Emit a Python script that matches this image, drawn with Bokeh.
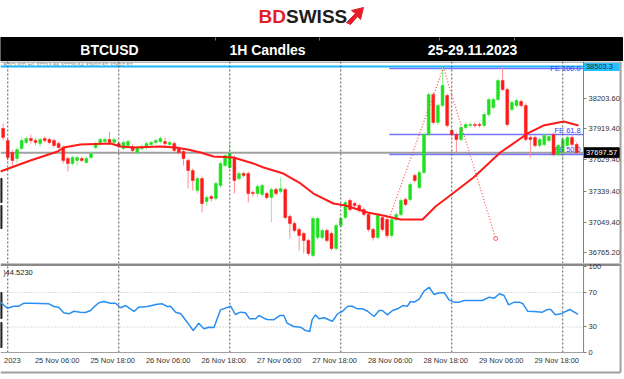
from bokeh.plotting import figure
from bokeh.models import Range1d, FixedTicker, Span, NumeralTickFormatter
from bokeh.layouts import column
from bokeh.embed import file_html
from bokeh.resources import INLINE
from bokeh.core.properties import value

# ---------------- data ----------------
# hourly candles, hour index counted from 25 Nov 2023 00:00
hours = list(range(-1, 124))
open_ = [37923, 37811, 37699, 37643, 37737, 37793, 37830, 37811, 37783, 37830,
         37821, 37811, 37783, 37746, 37643, 37597, 37625, 37643, 37606, 37653,
         37746, 37783, 37802, 37821, 37793, 37783, 37737, 37765, 37755, 37699,
         37737, 37746, 37774, 37793, 37802, 37802, 37774, 37783, 37737, 37709,
         37625, 37531, 37344, 37456, 37242, 37288, 37270, 37391, 37578, 37559,
         37653, 37456, 37503, 37503, 37326, 37316, 37307, 37316, 37279, 37354,
         37335, 37354, 37102, 37036, 36980, 36943, 36877, 36737, 36905, 36905,
         36971, 36943, 36803, 37018, 37092, 37251, 37223, 37204, 37167, 37120,
         36980, 36905, 37092, 37074, 36924, 37074, 37120, 37260, 37260, 37485,
         37372, 37513, 37867, 38241, 37980, 38138, 38232, 37905, 37867, 37821,
         37933, 37952, 37961, 37961, 37952, 38054, 38120, 38194, 38372, 38288,
         38101, 38138, 38176, 38138, 37839, 37839, 37765, 37774, 37811, 37867,
         37681, 37699, 37765, 37839, 37774]
close = [37839, 37653, 37625, 37727, 37811, 37830, 37811, 37793, 37821, 37811,
         37793, 37765, 37746, 37625, 37597, 37653, 37653, 37625, 37643, 37690,
         37783, 37821, 37821, 37793, 37821, 37755, 37793, 37802, 37718, 37746,
         37755, 37783, 37793, 37811, 37830, 37783, 37793, 37718, 37699, 37643,
         37531, 37438, 37456, 37223, 37279, 37270, 37410, 37597, 37671, 37690,
         37438, 37503, 37485, 37316, 37316, 37382, 37391, 37279, 37354, 37316,
         37363, 37092, 37036, 36971, 36924, 36877, 36756, 37083, 37083, 36971,
         36877, 36803, 37018, 37083, 37232, 37167, 37204, 37158, 37120, 36980,
         36905, 37111, 36980, 36924, 37074, 37120, 37251, 37214, 37400, 37438,
         37513, 37867, 38241, 37980, 38138, 38325, 37952, 37867, 37821, 37933,
         37961, 37961, 37952, 37952, 38054, 38194, 38194, 38372, 38288, 37961,
         38166, 38185, 38138, 37821, 37821, 37765, 37821, 37858, 37849, 37681,
         37765, 37821, 37839, 37774, 37698]
high = [37970, 37830, 37727, 37755, 37839, 37849, 37867, 37830, 37839, 37849,
        37839, 37830, 37802, 37765, 37662, 37671, 37671, 37662, 37662, 37709,
        37802, 37839, 37839, 37895, 37839, 37802, 37811, 37821, 37774, 37765,
        37774, 37802, 37811, 37830, 37849, 37839, 37811, 37802, 37755, 37727,
        37643, 37550, 37475, 37475, 37298, 37307, 37428, 37615, 37690, 37783,
        37671, 37522, 37522, 37522, 37344, 37400, 37410, 37335, 37372, 37372,
        37466, 37372, 37120, 37055, 36999, 36961, 36896, 37102, 37102, 36989,
        36989, 36961, 37036, 37102, 37251, 37270, 37242, 37223, 37186, 37139,
        36999, 37130, 37111, 37092, 37092, 37139, 37270, 37279, 37419, 37503,
        37531, 37886, 38260, 38260, 38157, 38493, 38250, 37923, 37886, 37952,
        37980, 37980, 37980, 37980, 38073, 38213, 38213, 38390, 38493, 38306,
        38185, 38204, 38194, 38157, 37858, 37858, 37839, 37877, 37867, 37886,
        37783, 37839, 37858, 37858, 37793]
low = [37811, 37625, 37578, 37597, 37718, 37774, 37783, 37765, 37755, 37793,
       37774, 37746, 37727, 37597, 37522, 37578, 37578, 37606, 37597, 37634,
       37727, 37765, 37783, 37774, 37774, 37737, 37718, 37746, 37699, 37681,
       37718, 37727, 37755, 37774, 37783, 37737, 37755, 37699, 37681, 37578,
       37363, 37344, 37316, 37139, 37204, 37242, 37251, 37372, 37559, 37541,
       37316, 37438, 37466, 37232, 37288, 37288, 37288, 37260, 37046, 37298,
       37316, 37074, 36896, 36952, 36784, 36756, 36737, 36719, 36887, 36887,
       36859, 36784, 36784, 36999, 37074, 37148, 37186, 37139, 37102, 36961,
       36877, 36887, 36961, 36896, 36905, 37055, 37102, 37195, 37242, 37419,
       37354, 37494, 37849, 37961, 37961, 38120, 37933, 37849, 37699, 37802,
       37914, 37933, 37933, 37933, 37933, 38036, 38101, 38176, 38269, 37942,
       38082, 38120, 38120, 37802, 37653, 37746, 37746, 37755, 37793, 37662,
       37662, 37643, 37746, 37755, 37690]

# moving average read at sample points
ma_hours = [-1.6, 4.9, 10.8, 12.1, 15.7, 22.2, 24.4, 27.2, 33.0, 36.3, 38.9,
            41.7, 44.5, 48.8, 53.1, 55.3, 59.6, 63.3, 66.1, 70.4, 73.0, 77.8,
            81.2, 84.9, 89.7, 92.5, 96.2, 100.7, 106.5, 112.4, 115.8, 120.2, 123.4]
ma_values = [37522, 37625, 37709, 37746, 37774, 37783, 37755, 37746, 37755, 37746,
             37727, 37699, 37662, 37653, 37597, 37559, 37503, 37410, 37316, 37223,
             37204, 37139, 37111, 37073, 37073, 37195, 37316, 37466, 37699, 37877,
             37951, 37989, 37951]

# RSI read at sample points
rsi_hours = [-1.6, -0.1, 1.3, 2.4, 3.5, 4.9, 8.9, 10.0, 11.0, 12.1, 13.2, 14.3,
             15.7, 16.8, 17.9, 18.6, 19.7, 20.8, 22.2, 23.3, 24.4, 25.5, 27.3,
             28.3, 30.2, 32.3, 33.4, 34.5, 35.2, 36.3, 37.4, 38.8, 40.1, 41.3,
             42.4, 43.5, 44.6, 46.0, 48.2, 49.2, 50.3, 51.4, 52.3, 53.6, 54.3,
             55.4, 56.1, 57.5, 58.8, 59.7, 60.4, 61.8, 63.3, 64.4, 65.3, 65.8,
             66.5, 67.3, 68.4, 70.2, 71.3, 72.4, 73.5, 74.5, 75.6, 76.7, 77.8,
             79.2, 80.3, 81.0, 82.1, 83.2, 84.3, 85.4, 86.4, 87.1, 87.9, 89.0,
             90.0, 91.1, 92.2, 93.3, 94.4, 95.4, 96.5, 97.6, 98.7, 100.5, 102.6,
             104.1, 105.2, 106.3, 107.3, 108.3, 109.5, 110.6, 111.4, 112.4, 113.8,
             115.6, 116.7, 117.4, 118.4, 119.6, 121.5, 122.9, 123.3]
rsi_values = [58.8, 51.8, 54.1, 54.1, 57.6, 57.6, 56.9, 53.8, 53.0, 46.5, 45.3, 48.3,
              47.2, 46.8, 49.1, 53.0, 58.1, 59.6, 57.6, 57.6, 52.3, 54.9, 48.0,
              53.0, 53.8, 56.4, 56.9, 53.8, 54.1, 47.2, 45.3, 35.6, 25.9, 34.4,
              27.9, 29.8, 29.4, 49.9, 54.1, 44.5, 47.2, 46.5, 39.5, 39.5, 43.3,
              40.2, 38.7, 38.3, 43.3, 43.3, 34.4, 30.6, 29.8, 25.9, 24.8, 38.3,
              44.1, 39.5, 40.7, 36.7, 45.3, 48.3, 54.1, 54.1, 51.1, 51.1, 48.3,
              42.2, 49.1, 49.1, 44.1, 49.1, 51.1, 54.9, 54.1, 59.6, 58.8, 62.7,
              71.5, 76.1, 67.7, 69.7, 69.7, 61.5, 58.8, 58.8, 60.7, 60.7, 60.7,
              64.6, 63.4, 68.5, 66.5, 55.7, 58.8, 58.8, 56.9, 48.3, 48.0, 47.2,
              50.3, 50.3, 44.1, 45.3, 50.3, 46.0, 44.5]
rsi_last = "44.5230"
rsi_levels = [30, 70]
rsi_ticks = [0, 30, 70, 100]

# price levels / annotations
price_ticks = [36765.2, 37049.4, 37339.4, 37629.4, 37919.4, 38203.6]
high_line = 38503.3
last_price = 37697.57
fe_levels = [38484, 37867, 37681]
fe_names = ["FE 100.0", "FE 61.8", "FE 50.0"]
fe_start = 82.5
fib_hours = [82.5, 94.2, 105.5]
fib_prices = [37090, 38493, 36896]

day_starts = [0, 24, 48, 72, 96, 120]
time_label_hours = [6, 18, 30, 42, 54, 66, 78, 90, 102, 114]
time_labels = ["25 Nov 06:00", "25 Nov 18:00", "26 Nov 06:00", "26 Nov 18:00",
               "27 Nov 06:00", "27 Nov 18:00", "28 Nov 06:00", "28 Nov 18:00",
               "29 Nov 06:00", "29 Nov 18:00"]

header_cells = ["BTCUSD", "1H Candles", "25-29.11.2023"]

# ---------------- styling / geometry ----------------
W = 624
X0, X1 = -1.568, 133.35      # visible hour span (full window width)
AX = 124.5                    # hour where the price / RSI scale sits
RB = 132.5                    # right border of the chart window
FONT = "Liberation Sans"
GREEN, RED = "#1fe01f", "#ff1a1a"
GREEN_W, RED_W = "#8ff08f", "#ff8c8c"
GRID = "#555555"
FRAME = "#a0a0a0"
FE_BASELINES = ["middle", "bottom", "bottom"]


def style_axis(ax):
    ax.major_label_text_font = FONT
    ax.major_label_text_font_size = "7.5px"
    ax.major_label_text_color = "#333333"
    ax.minor_tick_line_color = None


# ---------------- header ----------------
hdr = figure(width=W, height=61, x_range=Range1d(0, 624), y_range=Range1d(61, 0),
             output_backend="svg", toolbar_location=None, x_axis_location=None,
             y_axis_location=None, min_border=0, outline_line_color=None)
hdr.grid.visible = False
hdr.text(x=[258], y=[16], text=["BD"], text_font=value(FONT), text_font_style="bold",
         text_font_size="19px", text_color="#e3202a", text_baseline="middle", text_align="left")
hdr.text(x=[285.5], y=[16], text=["SWISS"], text_font=value(FONT), text_font_style="bold",
         text_font_size="19px", text_color="#1d1d1b", text_baseline="middle", text_align="left")
hdr.patch(x=[346, 355, 351, 363, 360, 357, 350], y=[22, 13, 10, 7, 19, 16, 24], color="#e3202a")
hdr.quad(left=[0], right=[622], top=[37], bottom=[61], color="#000000")
hdr.segment(x0=[215, 319, 439, 514], y0=[37] * 4, x1=[215, 319, 439, 514], y1=[40] * 4,
            line_color="#777777", line_width=1)
hdr.text(x=[109, 267, 472], y=[49, 49, 49], text=header_cells, text_font=value(FONT),
         text_font_style="bold", text_font_size="14px", text_color="white",
         text_baseline="middle", text_align="center")

# ---------------- main price chart ----------------
p = figure(width=W, height=202, x_range=Range1d(X0, X1), y_range=Range1d(36662.6, 38549.3),
           output_backend="svg", toolbar_location=None, x_axis_location=None,
           y_axis_location="right", min_border=0, outline_line_color=None)
p.grid.visible = False
for d in day_starts:
    p.add_layout(Span(location=d, dimension="height", line_color=GRID,
                      line_dash="2 2", line_width=1))

p.line(x=[X0, RB], y=[38545, 38545], line_color=FRAME, line_width=1.5)
p.line(x=[RB, RB], y=[36662.6, 38549.3], line_color=FRAME, line_width=2)
p.quad(left=[X0] * 2, right=[-1.25] * 2, bottom=[37232, 36989], top=[37457, 37204],
       color="#222222")

p.text(x=[-0.9], y=[38515], text=["BTCUSD,H1 37713.86 37729.54 37697.57 37697.57"],
       text_font=value(FONT), text_font_size="5.5px", text_color="#8a8a8a",
       text_baseline="middle", text_align="left")

p.line(x=[X0, AX], y=[high_line, high_line], line_color="#1ab8f5", line_width=2)
p.line(x=[X0, AX], y=[last_price, last_price], line_color="#a0a0a0", line_width=2)
for lvl, name, bl in zip(fe_levels, fe_names, FE_BASELINES):
    p.line(x=[fe_start, AX], y=[lvl, lvl], line_color="#7676ff", line_width=1.5)
    p.text(x=[123.9], y=[lvl], text=[name], text_font=value(FONT), text_font_size="7.5px",
           text_color="#3a3aff", text_baseline=bl, text_align="right")

up = [c >= o for o, c in zip(open_, close)]
body_col = [GREEN if u else RED for u in up]
wick_col = [GREEN_W if u else RED_W for u in up]
p.segment(x0=hours, y0=low, x1=hours, y1=high, line_color=wick_col, line_width=1)
p.vbar(x=hours, width=0.62, top=[max(o, c) for o, c in zip(open_, close)],
       bottom=[min(o, c) for o, c in zip(open_, close)],
       fill_color=body_col, line_color=body_col, line_width=0.5)

p.line(x=fib_hours, y=fib_prices, line_color="#ff5a5a", line_dash="1 2", line_width=1.3)
p.scatter(x=[fib_hours[-1]], y=[fib_prices[-1]], size=4, fill_color=None,
          line_color="#ff5a5a", line_width=1)
p.line(x=ma_hours, y=ma_values, line_color="#ff1a1a", line_width=2)

ya = p.yaxis[0]
ya.fixed_location = AX
ya.ticker = FixedTicker(ticks=price_ticks)
ya.formatter = NumeralTickFormatter(format="0.00")
style_axis(ya)
ya.axis_line_color = "#808080"
ya.major_tick_line_color = "#808080"
ya.major_tick_out = 3
ya.major_tick_in = 0
ya.major_label_standoff = 2

# value boxes on the price scale
p.quad(left=[AX], right=[RB - 0.3], bottom=[high_line - 38], top=[high_line + 28],
       color="#22c0ff")
p.text(x=[AX + 0.5], y=[high_line], text=["38503.3"], text_font=value(FONT),
       text_font_size="7.5px", text_color="#2a2a2a", text_baseline="middle", text_align="left")
p.quad(left=[AX], right=[RB - 0.3], bottom=[last_price - 46], top=[last_price + 46],
       color="#000000")
p.text(x=[AX + 0.5], y=[last_price], text=["37697.57"], text_font=value(FONT),
       text_font_size="7.5px", text_color="white", text_baseline="middle", text_align="left")

# ---------------- RSI panel ----------------
r = figure(width=W, height=116, x_range=p.x_range, y_range=Range1d(-30.87, 103.62),
           output_backend="svg", toolbar_location=None, x_axis_location="below",
           y_axis_location="right", min_border=0, outline_line_color=None)
r.grid.visible = False
for d in day_starts:
    r.line(x=[d, d], y=[0.4, 103], line_color=GRID, line_dash="2 2", line_width=1)
for lv in rsi_levels:
    r.line(x=[X0, AX], y=[lv, lv], line_color="#bdbdbd", line_dash="1 2", line_width=1)

r.line(x=[X0, RB], y=[102.6, 102.6], line_color="#8a8a8a", line_width=3)
r.line(x=[X0, AX], y=[0.4, 0.4], line_color=FRAME, line_width=1)
r.line(x=[AX, AX], y=[0.4, 103], line_color="#808080", line_width=1)
r.line(x=[X0, RB], y=[-22.75, -22.75], line_color=FRAME, line_width=2)
r.line(x=[RB, RB], y=[-22.75, 103.6], line_color=FRAME, line_width=2)
r.quad(left=[X0] * 2, right=[-1.25] * 2, bottom=[39.9, 6.2], top=[70, 35.2],
       color="#222222")

r.line(x=rsi_hours, y=rsi_values, line_color="#2a8ff0", line_width=1.5)
r.text(x=[-1.0], y=[93], text=[")" + rsi_last], text_font=value(FONT),
       text_font_size="7.5px", text_color="#202020", text_baseline="middle", text_align="left")

ry = r.yaxis[0]
ry.fixed_location = AX
ry.ticker = FixedTicker(ticks=rsi_ticks)
style_axis(ry)
ry.axis_line_color = None
ry.major_tick_line_color = "#808080"
ry.major_tick_out = 3
ry.major_tick_in = 0
ry.major_label_standoff = 2

label_shift = 4.7  # MT4 time labels start at their tick
tick_pos = [1.0] + [round(h + label_shift, 1) for h in time_label_hours]
overrides = {1.0: "2023"}
for h, t in zip(time_label_hours, time_labels):
    overrides[round(h + label_shift, 1)] = t
rx = r.xaxis[0]
rx.fixed_location = 0.4
rx.ticker = FixedTicker(ticks=tick_pos)
rx.major_label_overrides = overrides
style_axis(rx)
rx.axis_line_color = None
rx.major_tick_line_color = None
rx.major_tick_out = 0
rx.major_tick_in = 0
rx.major_label_standoff = 3

layout = column(hdr, p, r, spacing=0)
open("out.html", "w").write(file_html(layout, INLINE))
